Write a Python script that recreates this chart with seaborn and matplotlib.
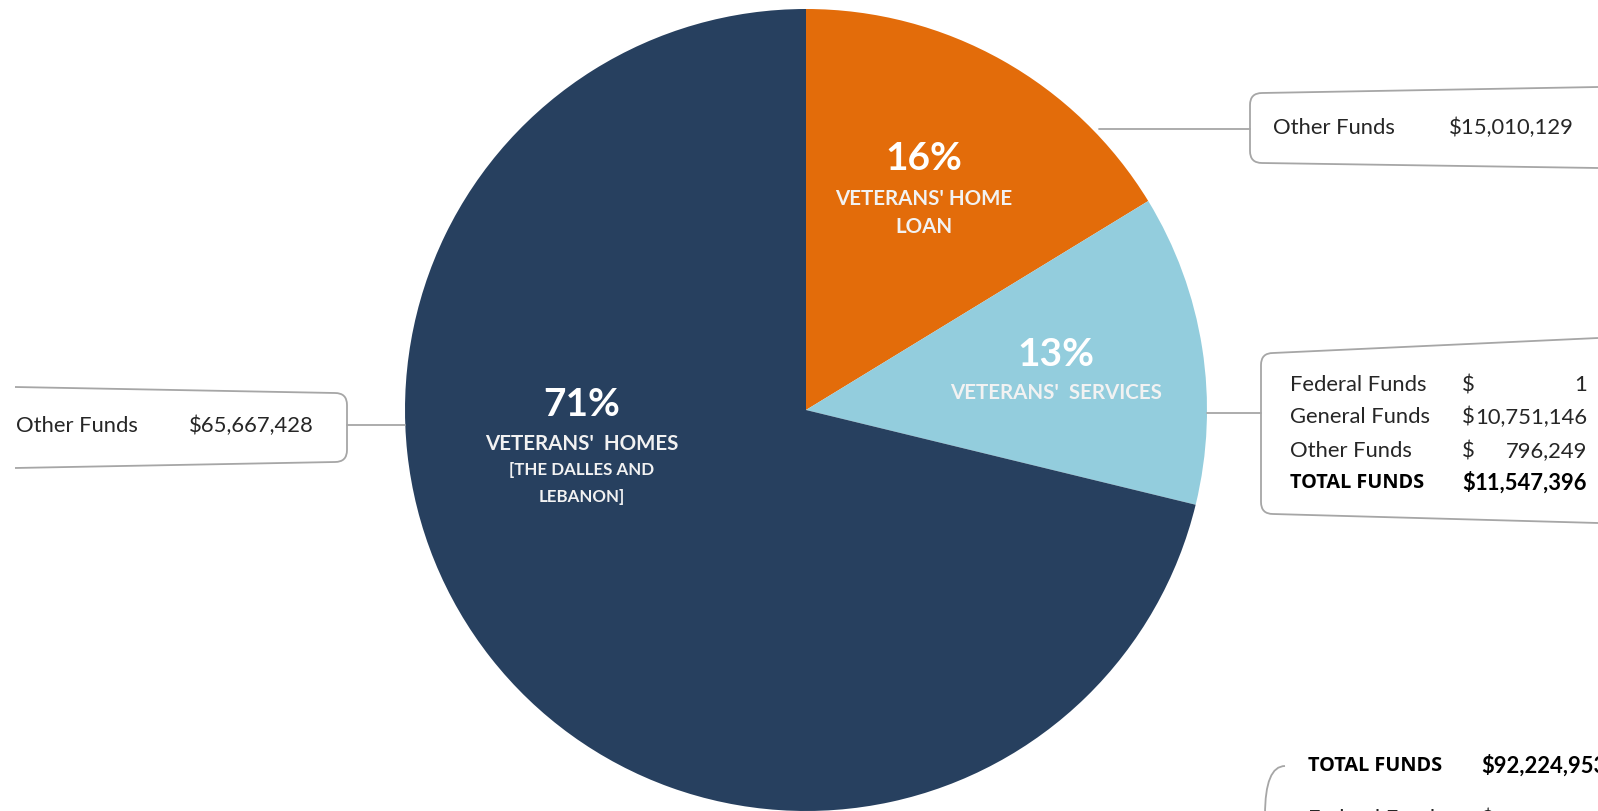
import numpy as np
import pandas as pd
import matplotlib
matplotlib.use("Agg")
import matplotlib.pyplot as plt
from matplotlib.path import Path
from matplotlib.patches import PathPatch
import seaborn as sns

# ---------------- data ----------------
categories = ["VETERANS' HOME\nLOAN", "VETERANS'  SERVICES", "VETERANS'  HOMES\n[THE DALLES AND\nLEBANON]"]
values = [15010129, 11547396, 65667428]
colors = ["#E36C0A", "#93CDDD", "#27405F"]

loan_rows = ["Other Funds"]
loan_amounts = ["$15,010,129"]
services_rows = ["Federal Funds", "General Funds", "Other Funds", "TOTAL FUNDS"]
services_amounts = ["1", "10,751,146", "796,249", "11,547,396"]
homes_rows = ["Other Funds"]
homes_amounts = ["$65,667,428"]
total_label = "TOTAL FUNDS"
total_amount = "$92,224,953"
total_next_row = "Federal Funds"

df = pd.DataFrame({"category": categories, "value": values, "color": colors})
df["pct"] = df["value"] / df["value"].sum() * 100

# ---------------- figure ----------------
sns.set_theme(style="white")
plt.rcParams["font.family"] = ["Lato", "DejaVu Sans"]

W, H = 1598, 811
fig = plt.figure(figsize=(W / 100, H / 100), dpi=100)
ax = fig.add_axes([0, 0, 1, 1])

def Y(y):
    return H - y

cx, cy, R = 806, 410, 401
ax.pie(df["value"], colors=df["color"], startangle=90, counterclock=False,
       center=(cx, Y(cy)), radius=R, frame=True,
       wedgeprops=dict(linewidth=0))
ax.set_xlim(0, W)
ax.set_ylim(0, H)
ax.set_aspect("equal")
ax.axis("off")

# slice labels: (x, pct y, first category line y, line step, sizes)
lab_layout = [
    (924, 158, 199, 28),
    (1056, 354, 393, 27),
    (582, 404, 444, 26.5),
]
for (x, ypct, y0, step), pct, cat in zip(lab_layout, df["pct"], df["category"]):
    ax.text(x, Y(ypct), f"{pct:.0f}%", ha="center", va="center", color="white",
            fontsize=28, fontweight="bold")
    for k, line in enumerate(cat.split("\n")):
        size = 14.8 if not line.startswith("[") and line != "LEBANON]" else 12.2
        ax.text(x, Y(y0 + k * step), line, ha="center", va="center", color="#F2F2F2",
                fontsize=size, fontweight="bold")

lc, lw = "#A6A6A6", 1.3

def bracket(x_end, x, ytop_end, ytop, ybot, ybot_end, r=12):
    s = 1 if x_end > x else -1
    verts = [(x_end, Y(ytop_end)), (x + s * r, Y(ytop)), (x, Y(ytop)), (x, Y(ytop + r)),
             (x, Y(ybot - r)), (x, Y(ybot)), (x + s * r, Y(ybot)), (x_end, Y(ybot_end))]
    codes = [Path.MOVETO, Path.LINETO, Path.CURVE3, Path.CURVE3,
             Path.LINETO, Path.CURVE3, Path.CURVE3, Path.LINETO]
    ax.add_patch(PathPatch(Path(verts, codes), fill=False, ec=lc, lw=lw))

txt = "#262626"
fs = 15.8
bold_font = ["Open Sans", "DejaVu Sans"]

# --- loan callout
bracket(W, 1250, 87, 93, 163, 168)
ax.plot([1099, 1250], [Y(129), Y(129)], color=lc, lw=lw)
for lab, amt in zip(loan_rows, loan_amounts):
    ax.text(1273, Y(128), lab, ha="left", va="center", color=txt, fontsize=fs)
    ax.text(1574, Y(128), amt, ha="right", va="center", color=txt, fontsize=fs)

# --- services callout
bracket(W, 1261, 338, 353, 514, 523)
ax.plot([1207, 1261], [Y(413), Y(413)], color=lc, lw=lw)
row_y = [385, 417, 451, 483]
for yy, lab, amt in zip(row_y, services_rows, services_amounts):
    if lab.isupper():
        ax.text(1290, Y(yy), lab, ha="left", va="center", color="#000000",
                fontsize=14.3, fontweight="bold", family=bold_font)
        fw, col = "bold", "#000000"
    else:
        ax.text(1290, Y(yy), lab, ha="left", va="center", color=txt, fontsize=fs)
        fw, col = "normal", txt
    ax.text(1462, Y(yy), "$", ha="left", va="center", color=col, fontsize=fs, fontweight=fw)
    ax.text(1587, Y(yy), amt, ha="right", va="center", color=col, fontsize=fs, fontweight=fw)

# --- homes callout
bracket(15, 347, 387, 393, 462, 468)
ax.plot([347, 405], [Y(425), Y(425)], color=lc, lw=lw)
for lab, amt in zip(homes_rows, homes_amounts):
    ax.text(16, Y(426), lab, ha="left", va="center", color=txt, fontsize=fs)
    ax.text(314, Y(426), amt, ha="right", va="center", color=txt, fontsize=fs)

# --- grand total box (cropped at bottom right, as in the original)
verts = [(1265, Y(815)), (1265, Y(766)), (1285, Y(766))]
ax.add_patch(PathPatch(Path(verts, [Path.MOVETO, Path.CURVE3, Path.CURVE3]),
                       fill=False, ec=lc, lw=lw))
ax.text(1308, Y(766), total_label, ha="left", va="center", color="#000000",
        fontsize=14.3, fontweight="bold", family=bold_font)
ax.text(1481, Y(766), total_amount, ha="left", va="center", color="#000000",
        fontsize=fs, fontweight="bold")
ax.text(1308, Y(819), total_next_row, ha="left", va="center", color=txt, fontsize=fs)
ax.text(1481, Y(819), "$", ha="left", va="center", color=txt, fontsize=fs)

fig.savefig("out.png", dpi=100, facecolor="white")
